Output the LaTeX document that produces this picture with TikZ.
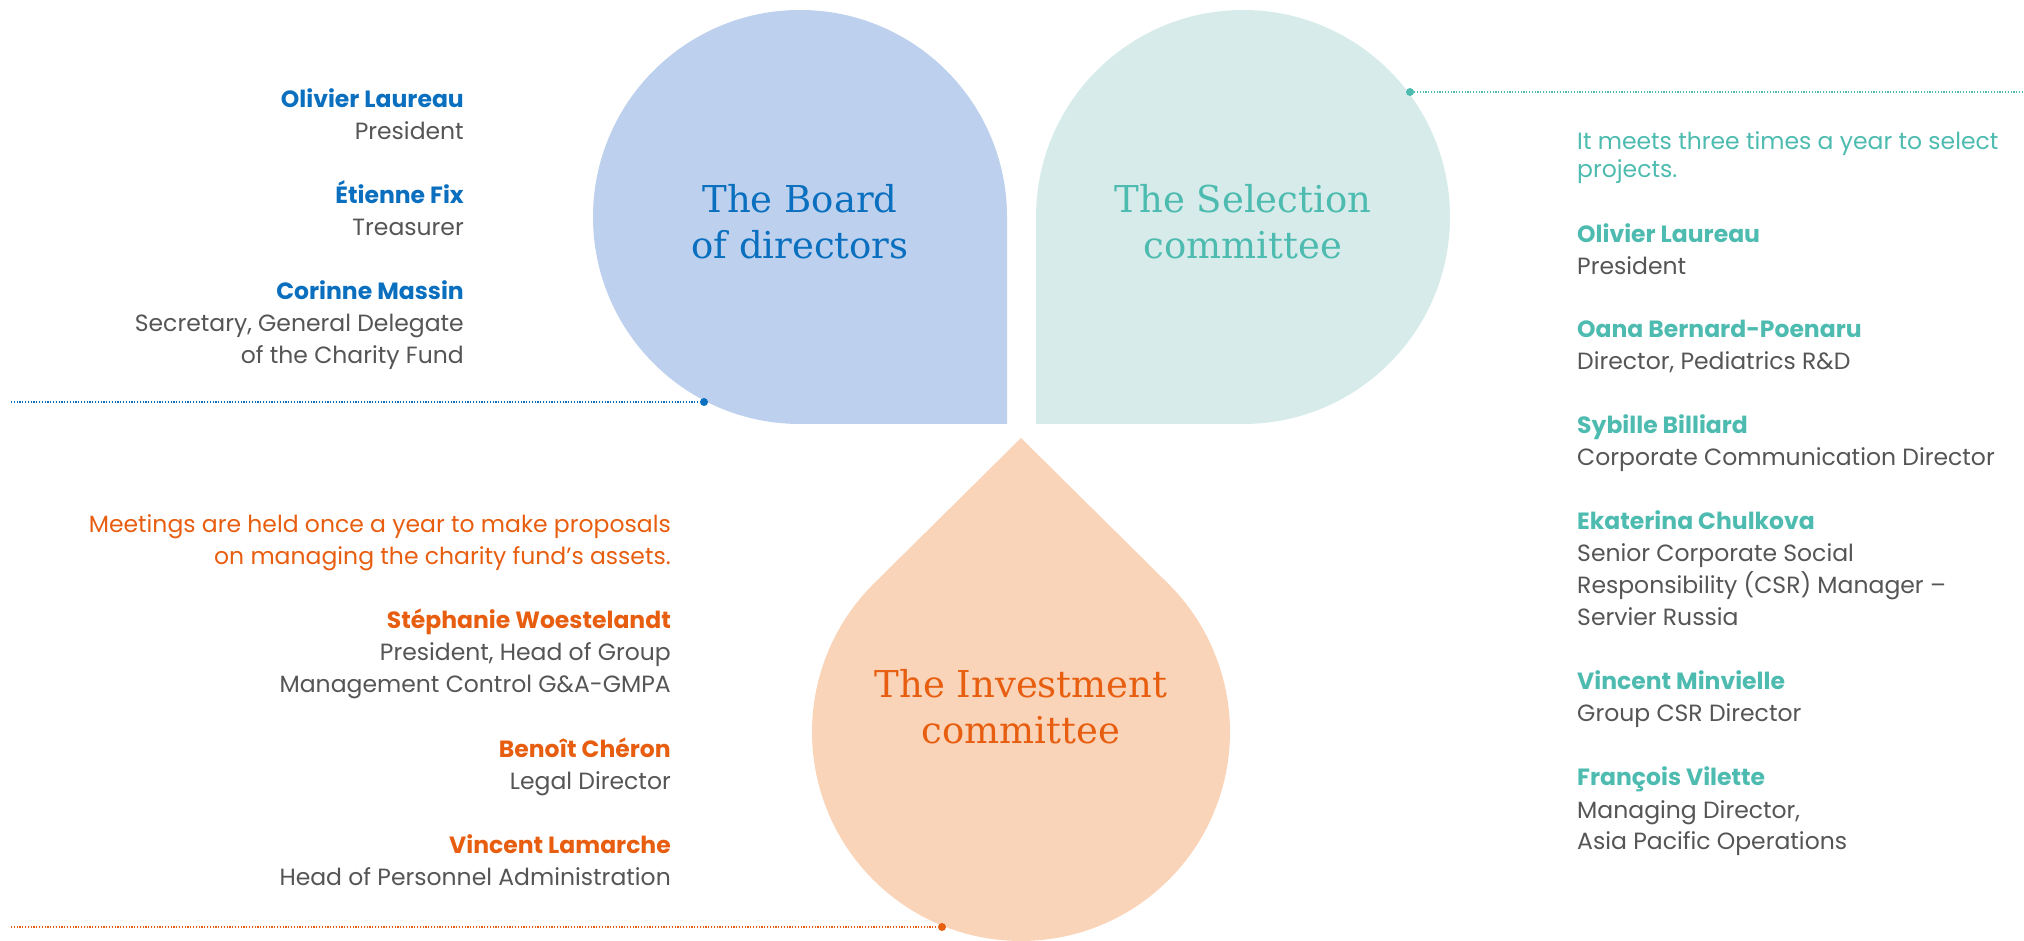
\documentclass[tikz,border=0pt]{standalone}
\usepackage{fontspec}
\setmainfont{Poppins}
\newfontfamily\slabfont{DejaVu Serif}

\definecolor{boardfill}{HTML}{BDD1EE}
\definecolor{boardtxt}{HTML}{0A6FBE}
\definecolor{selfill}{HTML}{D7ECEA}
\definecolor{seltxt}{HTML}{4DBBB0}
\definecolor{invfill}{HTML}{FAD4B8}
\definecolor{invtxt}{HTML}{E85E10}
\definecolor{roletxt}{HTML}{555555}

\tikzset{
  title/.style={font=\slabfont\fontsize{37}{46}\selectfont, align=center, anchor=base, inner sep=0pt},
  member/.style={font=\fontsize{23.5}{32}\selectfont, text=roletxt, inner sep=0pt},
  leftlist/.style={member, align=right, anchor=base east},
  rightlist/.style={member, align=left, anchor=base west},
  dotline/.style={line width=1.4pt, dash pattern=on 1.2pt off 1.6pt},
  enddot/.style={circle, inner sep=0pt, minimum size=8pt}
}

\begin{document}
\begin{tikzpicture}[x=1pt,y=1pt]
	\useasboundingbox (0,0) rectangle (2024,940);

	% the three drops
	\fill[boardfill] (800,516) arc[start angle=-90, end angle=-360, radius=207] -- (1007,516) -- cycle;
	\fill[selfill] (1036,516) -- (1036,723) arc[start angle=180, end angle=-90, radius=207] -- cycle;
	\coordinate (invc) at (1021,208);
	\fill[invfill] (1021,502) -- ([shift={(134.6:209)}]invc) arc[start angle=134.6, end angle=405.4, radius=209] -- cycle;

	% titles (placed at the baseline of their last line)
	\node[title, text=boardtxt] (boardtitle) at (800,681) {The Board\\of directors};
	\node[title, text=seltxt] (seltitle) at (1243,681) {The Selection\\committee};
	\node[title, text=invtxt] (invtitle) at (1021,196) {The Investment\\committee};

	% dotted leaders
	\node[enddot, fill=boardtxt] (bdot) at (704,538) {};
	\coordinate (bend) at (11,538);
	\draw[dotline, boardtxt] (bend) -- (bdot);
	\node[enddot, fill=seltxt] (sdot) at (1410,848) {};
	\coordinate (send) at (2024,848);
	\draw[dotline, seltxt] (sdot) -- (send);
	\node[enddot, fill=invtxt] (idot) at (942,13) {};
	\coordinate (iend) at (11,13);
	\draw[dotline, invtxt] (iend) -- (idot);

	% board of directors
	\node[leftlist] (board1) at (464,800) {\textcolor{boardtxt}{\textbf{Olivier Laureau}}\\President};
	\node[leftlist] (board2) at (464,704) {\textcolor{boardtxt}{\textbf{Étienne Fix}}\\Treasurer};
	\node[leftlist] (board3) at (464,576) {\textcolor{boardtxt}{\textbf{Corinne Massin}}\\Secretary, General Delegate\\of the Charity Fund};

	% selection committee
	\node[rightlist, text=seltxt, font=\fontsize{23.5}{28}\selectfont] (seldesc) at (1577,762) {It meets three times a year to select\\projects.};
	\node[rightlist] (sel1) at (1577,665) {\textcolor{seltxt}{\textbf{Olivier Laureau}}\\President};
	\node[rightlist] (sel2) at (1577,570) {\textcolor{seltxt}{\textbf{Oana Bernard-Poenaru}}\\Director, Pediatrics R\&D};
	\node[rightlist] (sel3) at (1577,474) {\textcolor{seltxt}{\textbf{Sybille Billiard}}\\Corporate Communication Director};
	\node[rightlist] (sel4) at (1577,314) {\textcolor{seltxt}{\textbf{Ekaterina Chulkova}}\\Senior Corporate Social\\Responsibility (CSR) Manager –\\Servier Russia};
	\node[rightlist] (sel5) at (1577,218) {\textcolor{seltxt}{\textbf{Vincent Minvielle}}\\Group CSR Director};
	\node[rightlist] (sel6) at (1577,90) {\textcolor{seltxt}{\textbf{François Vilette}}\\Managing Director,\\Asia Pacific Operations};

	% investment committee
	\node[leftlist, text=invtxt] (invdesc) at (671,375) {Meetings are held once a year to make proposals\\on managing the charity fund’s assets.};
	\node[leftlist] (inv1) at (671,247) {\textcolor{invtxt}{\textbf{Stéphanie Woestelandt}}\\President, Head of Group\\Management Control G\&A-GMPA};
	\node[leftlist] (inv2) at (671,150) {\textcolor{invtxt}{\textbf{Benoît Chéron}}\\Legal Director};
	\node[leftlist] (inv3) at (671,55) {\textcolor{invtxt}{\textbf{Vincent Lamarche}}\\Head of Personnel Administration};

\end{tikzpicture}
\end{document}
